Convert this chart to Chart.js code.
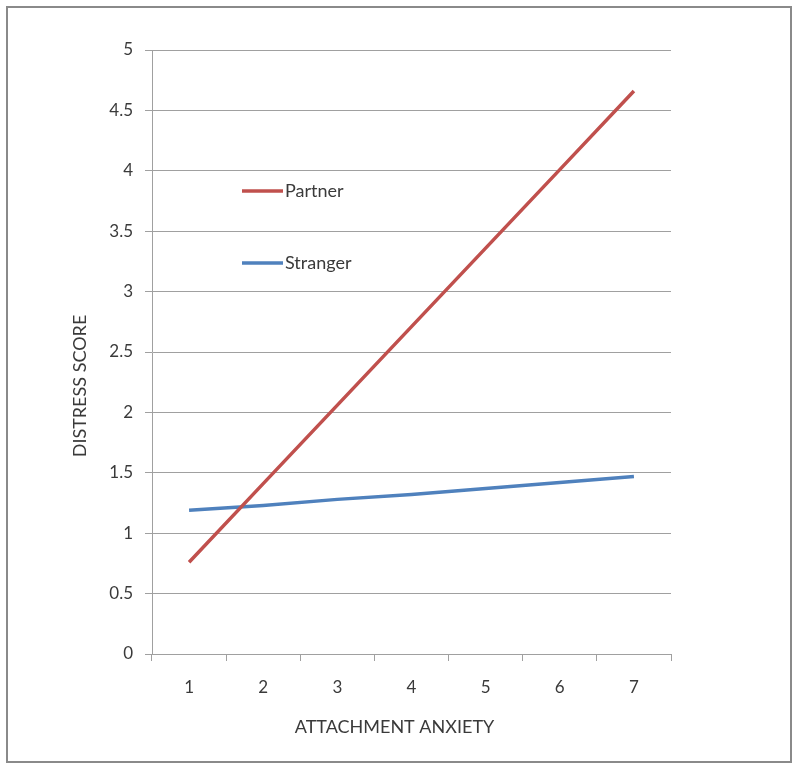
<!DOCTYPE html>
<html>
<head>
<meta charset="utf-8">
<script src="https://cdn.jsdelivr.net/npm/chart.js@4"></script>
<style>
  html, body { margin: 0; padding: 0; background: #fff; }
  #wrap { position: relative; width: 800px; height: 768px; }
  #frame { position: absolute; left: 6px; top: 6px; width: 786px; height: 757px;
           border: 2px solid #8a8a8a; box-sizing: border-box; pointer-events: none; }
</style>
</head>
<body>
<div id="wrap">
  <canvas id="chart" width="800" height="768"></canvas>
  <div id="frame"></div>
</div>
<script>
// data
const anxietyLevels = ['1', '2', '3', '4', '5', '6', '7'];
const partnerScores = [0.76, 1.41, 2.06, 2.71, 3.36, 4.01, 4.66];
const strangerScores = [1.19, 1.23, 1.28, 1.32, 1.37, 1.42, 1.47];
const seriesNames = ['Partner', 'Stranger'];
const xTitle = 'ATTACHMENT ANXIETY';
const yTitle = 'DISTRESS SCORE';

const FONT = 'Lato, "Open Sans", "Noto Sans", sans-serif';
const TEXT = '#3a3a3a';
const GRID = '#a0a0a0';

// legend sits inside the plot area, drawn by hand
const insideLegend = {
    id: 'insideLegend',
    afterDraw(chart) {
        const ctx = chart.ctx;
        const area = chart.chartArea;
        const x0 = area.left + 90;
        let y = area.top + 141;
        ctx.save();
        chart.data.datasets.forEach(ds => {
            ctx.strokeStyle = ds.borderColor;
            ctx.lineWidth = 3.5;
            ctx.beginPath();
            ctx.moveTo(x0, y);
            ctx.lineTo(x0 + 41, y);
            ctx.stroke();
            ctx.fillStyle = TEXT;
            ctx.font = '18px ' + FONT;
            ctx.textBaseline = 'middle';
            ctx.fillText(ds.label, x0 + 43, y);
            y += 72;
        });
        ctx.restore();
    }
};

// axis titles are a bit off-centre in the original (Excel style)
const axisTitles = {
    id: 'axisTitles',
    afterDraw(chart) {
        const ctx = chart.ctx;
        const area = chart.chartArea;
        ctx.save();
        ctx.fillStyle = TEXT;
        ctx.font = '18px ' + FONT;
        ctx.textAlign = 'center';
        ctx.textBaseline = 'middle';
        ctx.fillText(xTitle, (area.left + area.right) / 2 - 17, 727);
        ctx.translate(80, (area.top + area.bottom) / 2 + 34);
        ctx.rotate(-Math.PI / 2);
        ctx.fillText(yTitle, 0, 0);
        ctx.restore();
    }
};

new Chart(document.getElementById('chart'), {
    type: 'line',
    data: {
        labels: anxietyLevels,
        datasets: [
            { label: seriesNames[0], data: partnerScores, borderColor: '#C0504D', borderWidth: 3.5, pointRadius: 0, tension: 0 },
            { label: seriesNames[1], data: strangerScores, borderColor: '#4F81BD', borderWidth: 3.5, pointRadius: 0, tension: 0 }
        ]
    },
    options: {
        responsive: false,
        animation: false,
        layout: { padding: { left: 60, top: 50, right: 129, bottom: 0 } },
        plugins: { legend: { display: false }, tooltip: { enabled: false } },
        scales: {
            x: {
                offset: true,
                grid: { offset: true, drawOnChartArea: false, tickLength: 7, color: GRID },
                border: { color: GRID },
                ticks: { color: TEXT, font: { family: FONT, size: 17 }, padding: 16 },
                afterFit(scale) { scale.height = 114; }
            },
            y: {
                min: 0, max: 5,
                ticks: { stepSize: 0.5, color: TEXT, font: { family: FONT, size: 17 }, padding: 12,
                         callback: v => String(v) },
                grid: { tickLength: 7, color: GRID },
                border: { color: GRID },
                afterFit(scale) { scale.width = 92; }
            }
        }
    },
    plugins: [insideLegend, axisTitles]
});
</script>
</body>
</html>
